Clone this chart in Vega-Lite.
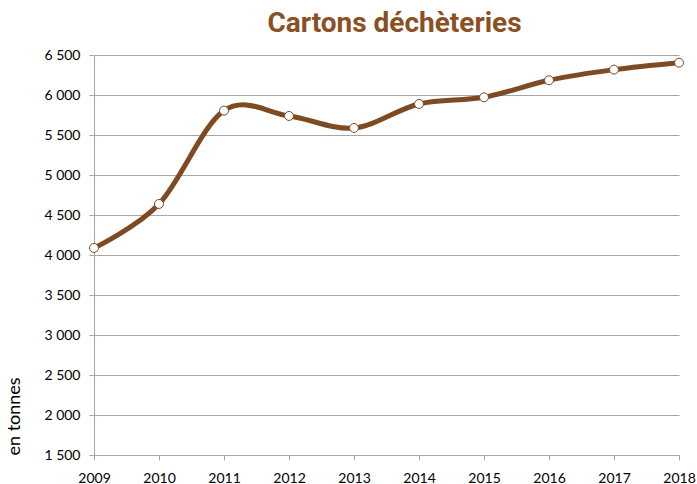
{
  "$schema": "https://vega.github.io/schema/vega-lite/v6.json",
  "width": 585,
  "height": 400,
  "autosize": {"type": "none"},
  "padding": {"left": 94, "top": 55, "right": 18, "bottom": 29},
  "background": "white",
  "title": {
    "text": "Cartons déchèteries",
    "font": "Roboto",
    "fontSize": 28,
    "fontWeight": "bold",
    "color": "#8B4F24",
    "anchor": "middle",
    "dx": 8,
    "offset": 10
  },
  "config": {"view": {"stroke": null}},
  "data": {
    "values": [
      {"year": "2009", "value": 4088},
      {"year": "2010", "value": 4638},
      {"year": "2011", "value": 5805},
      {"year": "2012", "value": 5738},
      {"year": "2013", "value": 5588},
      {"year": "2014", "value": 5888},
      {"year": "2015", "value": 5971},
      {"year": "2016", "value": 6184},
      {"year": "2017", "value": 6317},
      {"year": "2018", "value": 6404}
    ]
  },
  "encoding": {
    "x": {
      "field": "year",
      "type": "ordinal",
      "scale": {"type": "point", "padding": 0},
      "axis": {
        "title": null,
        "labelAngle": 0,
        "labelFont": "Lato",
        "labelFontSize": 14,
        "labelColor": "#000000",
        "labelPadding": 11,
        "domainColor": "#a6a6a6",
        "tickColor": "#a6a6a6",
        "tickSize": 5,
        "grid": false
      }
    },
    "y": {
      "field": "value",
      "type": "quantitative",
      "scale": {"domain": [1500, 6500], "nice": false, "zero": false},
      "axis": {
        "values": [1500, 2000, 2500, 3000, 3500, 4000, 4500, 5000, 5500, 6000, 6500],
        "labelExpr": "replace(format(datum.value, ','), ',', ' ')",
        "labelFont": "Lato",
        "labelFontSize": 14,
        "labelColor": "#000000",
        "labelPadding": 9,
        "domainColor": "#a6a6a6",
        "tickColor": "#a6a6a6",
        "tickSize": 5,
        "gridColor": "#a6a6a6",
        "gridWidth": 1,
        "title": "en tonnes",
        "titleFont": "Lato",
        "titleFontSize": 18,
        "titleFontWeight": "normal",
        "titleColor": "#000000",
        "titleAnchor": "start",
        "titlePadding": 20
      }
    }
  },
  "layer": [
    {
      "mark": {"type": "line", "interpolate": "cardinal", "color": "#7E4A22", "strokeWidth": 5}
    },
    {
      "mark": {"type": "point", "filled": true, "fill": "white", "stroke": "#7E4A22", "strokeWidth": 1, "size": 80, "opacity": 1}
    }
  ]
}
